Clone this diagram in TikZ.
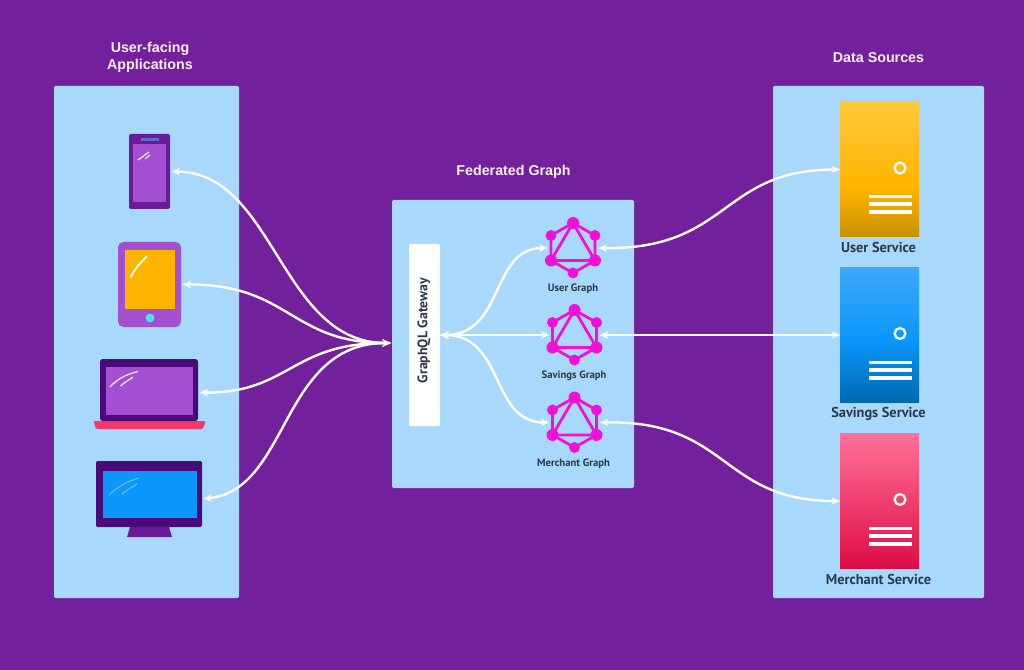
\documentclass[tikz,border=0pt]{standalone}
\usepackage{fontspec}
\setmainfont{PT Sans}
\newfontfamily\titlefont{Liberation Sans}
\usetikzlibrary{arrows.meta}

\definecolor{backdrop}{HTML}{72209B}
\definecolor{panelblue}{HTML}{A8D8FB}
\definecolor{labelink}{HTML}{2A3A4A}
\definecolor{hexpink}{HTML}{F20FD6}
\definecolor{frameviolet}{HTML}{4A0A7A}
\definecolor{phoneviolet}{HTML}{6A1B9A}
\definecolor{lilac}{HTML}{A24FD2}
\definecolor{amber}{HTML}{FFB400}
\definecolor{skyblue}{HTML}{0A96FB}
\definecolor{speakerblue}{HTML}{5A6FC8}
\definecolor{buttonteal}{HTML}{4EE0E0}
\definecolor{baserose}{HTML}{F0386A}
\definecolor{glareblue}{HTML}{6CC4F8}
\definecolor{ambertop}{HTML}{FFC83A}
\definecolor{amberlow}{HTML}{C89000}
\definecolor{skytop}{HTML}{3EA8F8}
\definecolor{skylow}{HTML}{0068B0}
\definecolor{rosetop}{HTML}{FF7098}
\definecolor{rosemid}{HTML}{F03F70}
\definecolor{roselow}{HTML}{DC0C44}

\pgfdeclareverticalshading{amberfade}{100bp}{color(0bp)=(amberlow); color(25bp)=(amberlow); color(43bp)=(amber); color(75bp)=(ambertop); color(100bp)=(ambertop)}
\pgfdeclareverticalshading{skyfade}{100bp}{color(0bp)=(skylow); color(25bp)=(skylow); color(48bp)=(skyblue); color(75bp)=(skytop); color(100bp)=(skytop)}
\pgfdeclareverticalshading{rosefade}{100bp}{color(0bp)=(roselow); color(25bp)=(roselow); color(50bp)=(rosemid); color(75bp)=(rosetop); color(100bp)=(rosetop)}

\tikzset{
	panel/.style={fill=panelblue,rounded corners=1pt,inner sep=0pt},
	titletext/.style={font=\titlefont\bfseries\fontsize{10.7}{12.75}\selectfont,text=white!94!magenta,align=center,inner sep=0pt},
	graphtext/.style={font=\fontsize{8}{9}\selectfont\bfseries,text=labelink,inner sep=0pt},
	servicetext/.style={font=\fontsize{10.75}{12}\selectfont\bfseries,text=labelink,inner sep=0pt},
	device/.style={inner sep=0pt,outer sep=1pt},
	server/.style={inner sep=0pt,outer sep=0pt,minimum width=59.25pt,minimum height=101.25pt},
	link/.style={draw=white,line width=1.8pt,{Stealth[length=6.5pt,width=5.5pt]}-{Stealth[length=6.5pt,width=5.5pt]}},
	hexdot/.style={circle,fill=hexpink,inner sep=0pt,minimum size=8.2pt},
	hexdotbig/.style={circle,fill=hexpink,inner sep=0pt,minimum size=9pt},
	hexline/.style={draw=hexpink,line width=2.1pt},
	graphport/.style={inner sep=0pt,minimum width=37.5pt,minimum height=37.5pt},
	graphicon/.pic={
		\node [hexdotbig] (-t) at (0,25) {};
		\node [hexdot] (-ur) at (22,12.5) {};
		\node [hexdotbig] (-lr) at (22,-12.5) {};
		\node [hexdot] (-b) at (0,-25) {};
		\node [hexdotbig] (-ll) at (-22,-12.5) {};
		\node [hexdot] (-ul) at (-22,12.5) {};
		\draw [hexline] (-t.center) -- (-ur.center) -- (-lr.center) -- (-b.center) -- (-ll.center) -- (-ul.center) -- cycle;
		\draw [hexline] (-t.center) -- (-ll.center) -- (-lr.center) -- cycle;
	},
	serverfront/.pic={
		\draw [white,line width=1.7pt] (20.5,1.5) circle (5.4);
		\fill [white] (-10.5,-26) rectangle (32.5,-29);
		\fill [white] (-10.5,-32.5) rectangle (32.5,-36.5);
		\fill [white] (-10.5,-41) rectangle (32.5,-45);
	},
}

\begin{document}
\begin{tikzpicture}[x=0.75pt,y=0.75pt,yscale=-1,xscale=1]
	\fill [backdrop] (0,0) rectangle (1024,670);
	\useasboundingbox (0,0) rectangle (1024,670);

	% Panels
	\node (apps) [panel,minimum width=138.75pt,minimum height=384pt] at (146.5,342) {};
	\node (federated) [panel,minimum width=181.5pt,minimum height=216pt] at (513,344) {};
	\node (sources) [panel,minimum width=158.25pt,minimum height=384pt] at (878.5,342) {};

	% Titles
	\node (appstitle) [titletext] at (150,57) {User-facing\\Applications};
	\node (fedtitle) [titletext] at (513.5,172) {Federated Graph};
	\node (sourcestitle) [titletext] at (878.5,58) {Data Sources};

	% Phone
	\node (phone) [device,fill=phoneviolet,rounded corners=1.5pt,minimum width=30.75pt,minimum height=56.25pt] at (149.5,171.5) {};
	\fill [lilac] (133,144) rectangle (166,202);
	\fill [speakerblue] (141,138.5) rectangle (158.5,141);
	\draw [white,line width=0.8pt] (138,160) -- (149,152);
	\draw [white,line width=0.8pt] (145,159) -- (150,155);

	% Tablet
	\node (tablet) [device,fill=lilac,rounded corners=4pt,minimum width=47.25pt,minimum height=63.75pt] at (149.5,284.5) {};
	\fill [amber] (125,250) rectangle (175,309);
	\fill [buttonteal] (150,318) circle (4.5);
	\draw [white,line width=1.3pt] (130.5,277.5) .. controls (136,267) and (141,262) .. (147,256.5);

	% Laptop
	\fill [baserose] [rounded corners=1pt] (93.5,421) -- (205.5,421) -- (203,429) -- (96,429) -- cycle;
	\node (laptop) [device,fill=frameviolet,rounded corners=2pt,minimum width=73.5pt,minimum height=46.5pt] at (149,390) {};
	\fill [lilac] (106,367) rectangle (193,415);
	\draw [white,line width=0.8pt] (110,387) .. controls (118,378) and (128,374) .. (138,371.5);
	\draw [white,line width=0.8pt] (120.5,386) .. controls (125,382) and (129,380) .. (133,377);

	% Monitor
	\fill [phoneviolet] (130,527) -- (169,527) -- (172,537) -- (127,537) -- cycle;
	\node (monitor) [device,fill=frameviolet,rounded corners=1pt,minimum width=79.5pt,minimum height=49.5pt] at (149,494) {};
	\fill [skyblue] (103,471) rectangle (197,518);
	\draw [glareblue,line width=0.8pt] (109,495) .. controls (117,487) and (128,481) .. (139,478);
	\draw [glareblue,line width=0.8pt] (122,494) .. controls (127,490) and (132,487) .. (137,484);

	% Gateway
	\node (gateway) [fill=white,rounded corners=1pt,inner sep=0pt,outer sep=0pt,minimum width=23.25pt,minimum height=136.5pt] at (424.5,335) {};
	\node (gatewaytext) [rotate=90,inner sep=0pt,text=labelink,font=\fontsize{10.35}{12}\selectfont\bfseries] at (424,330.5) {GraphQL Gateway};
	\coordinate (hub) at (391,343);

	% Graph icons
	\node (usergraph) [graphport] at (573,248) {};
	\pic (ug) at (usergraph.center) {graphicon};
	\node (usergraphtext) [graphtext] at (573,288.5) {User Graph};
	\node (savingsgraph) [graphport] at (574.5,335) {};
	\pic (sg) at (savingsgraph.center) {graphicon};
	\node (savingsgraphtext) [graphtext] at (574,375.5) {Savings Graph};
	\node (merchantgraph) [graphport] at (574.5,422.5) {};
	\pic (mg) at (merchantgraph.center) {graphicon};
	\node (merchantgraphtext) [graphtext] at (573.5,463.5) {Merchant Graph};

	% Services
	\node (userservice) [server,shading=amberfade] at (879.5,169.5) {};
	\pic at (userservice.center) {serverfront};
	\node (userservicetext) [servicetext] at (878.5,247) {User Service};
	\node (savingsservice) [server,shading=skyfade] at (879.5,335) {};
	\pic at (savingsservice.center) {serverfront};
	\node (savingsservicetext) [servicetext] at (878.5,414) {Savings Service};
	\node (merchantservice) [server,shading=rosefade] at (879.5,501) {};
	\pic at (merchantservice.center) {serverfront};
	\node (merchantservicetext) [servicetext] at (878.5,579) {Merchant Service};

	% Links, devices to gateway
	\draw [link] (phone.east) .. controls (275,172) and (280,343) .. (hub);
	\draw [link] (tablet.east) .. controls (290,284) and (290,343) .. (hub);
	\draw [link] (laptop.-3.5) .. controls (290,393) and (290,343) .. (hub);
	\draw [link] (monitor.-5.4) .. controls (290,490) and (280,343) .. (hub);

	% Links, gateway to graphs
	\draw [link] (gateway.east) .. controls (505,335) and (490,248) .. (usergraph.west);
	\draw [link] (gateway.east) -- (savingsgraph.west);
	\draw [link] (gateway.east) .. controls (505,335) and (490,422.5) .. (merchantgraph.west);

	% Links, graphs to services
	\draw [link] (usergraph.east) .. controls (730,250) and (720,169.5) .. (userservice.west);
	\draw [link] (savingsgraph.east) -- (savingsservice.west);
	\draw [link] (merchantgraph.east) .. controls (730,420) and (720,501) .. (merchantservice.west);
\end{tikzpicture}
\end{document}
